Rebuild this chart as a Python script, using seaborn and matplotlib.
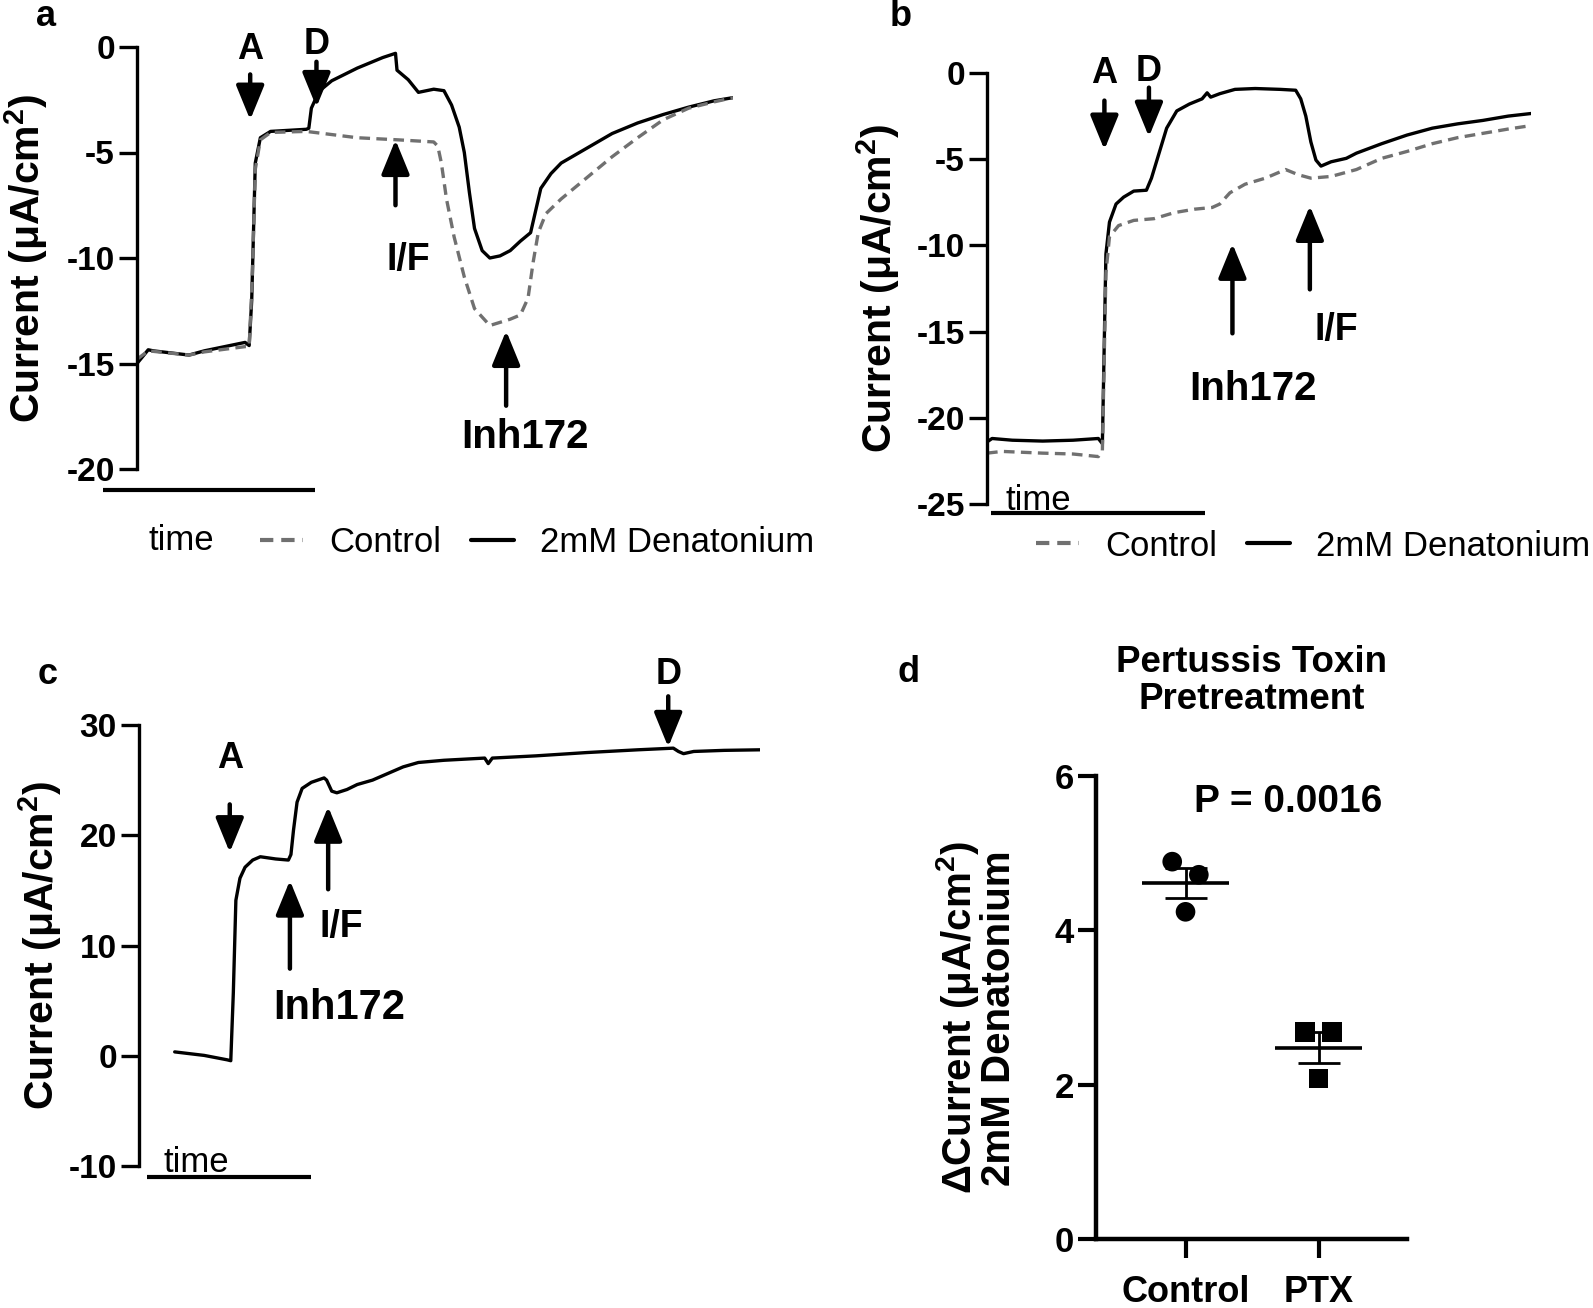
import numpy as np
import pandas as pd
import matplotlib
matplotlib.use("Agg")
import matplotlib.pyplot as plt
from matplotlib.lines import Line2D
import seaborn as sns

# ---------------- data ----------------
# panel a : traces (arbitrary time units)
a_den_t = [0, 2.2, 3.2, 10.2, 13.2, 21.2, 22.0, 22.5, 23.2, 24.2, 26.2, 33.2, 33.7, 34.2, 35.7, 38.2,
           43.2, 48.2, 50.7, 51.0, 53.2, 55.2, 58.2, 60.2, 61.7, 63.2, 64.2, 65.2, 66.2, 67.7, 69.2,
           71.2, 73.2, 75.2, 77.2, 78.2, 79.2, 81.2, 83.2, 88.2, 93.2, 98.2, 103.2, 108.2, 113.2, 116.9]
a_den_v = [-15.0, -14.35, -14.4, -14.6, -14.4, -14.0, -14.15, -12.0, -5.5, -4.3, -4.0, -3.9, -3.85, -2.9,
           -2.1, -1.6, -1.0, -0.5, -0.3, -1.1, -1.55, -2.15, -2.0, -2.07, -2.75, -3.8, -5.0, -6.9, -8.6,
           -9.65, -10.0, -9.9, -9.65, -9.2, -8.8, -7.75, -6.7, -6.0, -5.5, -4.8, -4.1, -3.6, -3.2, -2.85,
           -2.55, -2.4]
a_ctl_t = [0, 2.2, 10.2, 13.2, 21.2, 22.0, 22.6, 23.2, 24.2, 26.2, 33.2, 38.2, 43.2, 51.2, 58.2, 59.0,
           59.7, 60.7, 62.2, 64.2, 66.2, 69.2, 73.2, 75.2, 76.7, 77.7, 78.7, 80.2, 83.2, 88.2, 93.2, 98.2,
           103.2, 108.2, 113.2, 116.9]
a_ctl_v = [-14.8, -14.4, -14.6, -14.45, -14.2, -14.2, -11.0, -5.8, -4.4, -4.05, -4.0, -4.15, -4.3, -4.4,
           -4.5, -4.7, -5.5, -7.2, -9.0, -10.9, -12.4, -13.2, -12.9, -12.7, -11.9, -10.2, -8.8, -7.9,
           -7.2, -6.2, -5.2, -4.3, -3.45, -2.9, -2.6, -2.4]

# panel b
b_den_t = [0, 1, 5, 11, 17, 22, 22.8, 23.5, 24.2, 25.5, 27, 29, 31.5, 32.5, 34, 35.5, 37.5, 40, 42.5,
           43.5, 44.2, 46, 49, 53, 58, 61, 62, 63, 64, 65, 66, 68, 71, 73, 78, 83, 88, 93, 98, 103, 107.5]
b_den_v = [-21.4, -21.2, -21.3, -21.35, -21.3, -21.2, -21.5, -10.5, -8.65, -7.6, -7.2, -6.85, -6.8, -6.1,
           -4.65, -3.2, -2.2, -1.8, -1.5, -1.15, -1.4, -1.2, -0.95, -0.9, -0.95, -1.0, -1.5, -2.5, -4.0,
           -5.05, -5.4, -5.15, -4.95, -4.65, -4.1, -3.6, -3.2, -2.95, -2.75, -2.5, -2.35]
b_ctl_t = [0, 3, 11, 17, 22, 22.8, 23.5, 24.2, 26, 29, 33, 37, 41, 44.5, 46, 48, 51, 55, 59, 61.5, 64,
           68, 73, 78, 83, 88, 93, 98, 103, 107.5]
b_ctl_v = [-22.05, -21.95, -22.05, -22.1, -22.25, -21.9, -11.6, -9.5, -8.85, -8.55, -8.45, -8.1, -7.9,
           -7.8, -7.6, -6.95, -6.45, -6.1, -5.6, -5.9, -6.1, -6.0, -5.6, -4.95, -4.55, -4.1, -3.75, -3.5,
           -3.25, -3.05]

# panel c
c_t = [7, 12.8, 17.3, 18.0, 18.5, 19.0, 19.8, 20.8, 22.3, 23.8, 26.8, 29.3, 29.8, 30.3, 31.0, 32.0, 33.8,
       36.3, 36.8, 37.8, 38.8, 40.8, 42.8, 45.8, 48.8, 51.8, 54.8, 59.8, 67.8, 68.5, 69.3, 77.8, 87.8,
       97.8, 104.8, 105.8, 106.8, 108.8, 114.8, 121.8]
c_v = [0.35, 0.03, -0.37, -0.45, 5.7, 14.1, 16.1, 17.1, 17.75, 18.05, 17.85, 17.75, 18.25, 20.45, 23.0,
       24.25, 24.8, 25.2, 25.0, 24.0, 23.85, 24.15, 24.6, 25.0, 25.6, 26.2, 26.6, 26.8, 27.0, 26.5, 27.0,
       27.2, 27.5, 27.75, 27.9, 27.6, 27.4, 27.6, 27.7, 27.75]

# panel d
d_groups = ["Control", "PTX"]
d_control = [4.89, 4.72, 4.24]
d_ptx = [2.68, 2.68, 2.08]
d_jitter = [-0.10, 0.10, 0.0]   # horizontal spread of replicate points

# treatment annotations: (label, time, arrow tail, arrow head, label x, label y, size)
a_marks = [("A", 22.2, -1.3, -3.45, 22.2, -0.1, 26),
           ("D", 35.2, -0.7, -2.85, 35.2, 0.1, 26),
           ("I/F", 50.7, -7.5, -4.4, 53.2, -10.1, 27),
           ("Inh172", 72.4, -17.0, -13.45, 76.2, -18.5, 29)]
b_marks = [("A", 23.2, -1.6, -4.45, 23.2, 0.0, 26),
           ("D", 32.0, -0.85, -3.7, 32.0, 0.1, 26),
           ("Inh172", 48.5, -15.1, -9.9, 52.5, -18.35, 29),
           ("I/F", 63.8, -12.55, -7.7, 69.0, -14.9, 27)]
c_marks = [("A", 17.8, 22.8, 18.45, 17.8, 27.0, 26),
           ("Inh172", 29.6, 7.9, 15.9, 39.3, 4.35, 30),
           ("I/F", 37.1, 15.1, 22.6, 39.6, 11.7, 27),
           ("D", 103.8, 32.6, 28.0, 103.8, 34.6, 26)]

# ---------------- style ----------------
sns.set_theme(style="ticks")
plt.rcParams["font.family"] = ["Liberation Sans", "DejaVu Sans"]
plt.rcParams["axes.unicode_minus"] = False
plt.rcParams["mathtext.fontset"] = "custom"
plt.rcParams["mathtext.rm"] = "Liberation Sans:bold"
plt.rcParams["mathtext.bf"] = "Liberation Sans:bold"
plt.rcParams["mathtext.default"] = "bf"
for key in ["text.color", "axes.labelcolor", "xtick.color", "ytick.color", "axes.edgecolor",
            "xtick.labelcolor", "ytick.labelcolor"]:
    plt.rcParams[key] = "black"

W, H = 1593, 1308
fig = plt.figure(figsize=(W / 100, H / 100), dpi=100)

def px_axes(left, top, right, bottom):
    return fig.add_axes([left / W, 1 - bottom / H, (right - left) / W, (bottom - top) / H])

ax_a = px_axes(137, 47, 733, 469)
ax_b = px_axes(987, 73, 1531, 504)
ax_c = px_axes(139, 725, 760, 1166)
ax_d = px_axes(1096, 776, 1407, 1239)

GRAY = "#707070"
ylab = r"Current (μA/cm$^{\mathbf{2}}$)"

def trace_axes(ax, df, xmax, ylim, yticks):
    if df["condition"].nunique() > 1:
        sns.lineplot(data=df, x="t", y="current", hue="condition", style="condition",
                     hue_order=["2mM Denatonium", "Control"],
                     palette={"Control": GRAY, "2mM Denatonium": "black"},
                     dashes={"Control": (3.2, 1.9), "2mM Denatonium": ""},
                     linewidth=2.4, legend=False, errorbar=None, ax=ax)
    else:
        sns.lineplot(data=df, x="t", y="current", color="black", linewidth=2.4,
                     legend=False, errorbar=None, ax=ax)
    ax.set_xlim(0, xmax)
    ax.set_ylim(*ylim)
    ax.set_yticks(yticks)
    ax.set_yticklabels([str(v) for v in yticks], fontsize=24, fontweight="bold")
    for s in ["top", "right", "bottom"]:
        ax.spines[s].set_visible(False)
    ax.spines["left"].set_linewidth(2.4)
    ax.spines["left"].set_color("black")
    ax.tick_params(axis="y", length=13, width=2.4, pad=3, color="black", labelcolor="black")
    ax.set_xticks([])
    ax.set_xlabel("")
    ax.set_facecolor("none")

def marks(ax, items):
    for lab, t, tail, head, lx, ly, fs in items:
        ax.annotate("", xy=(t, head), xytext=(t, tail),
                    arrowprops=dict(arrowstyle="-|>,head_length=21,head_width=8.6",
                                    mutation_scale=1, lw=3.2, color="black",
                                    shrinkA=0, shrinkB=0),
                    annotation_clip=False)
        ax.text(lx, ly, lab, ha="center", va="center", fontsize=fs,
                fontweight="bold", color="black", clip_on=False)

def scalebar(ax, x0, x1, y):
    ax.plot([x0, x1], [y, y], transform=ax.transAxes, color="black", lw=3,
            clip_on=False, solid_capstyle="butt")

def legend_at(ax, x, y):
    handles = [Line2D([], [], color=GRAY, lw=3, linestyle=(0, (3.2, 1.9))),
               Line2D([], [], color="black", lw=3)]
    leg = ax.legend(handles, ["Control", "2mM Denatonium"], loc="center left",
                    bbox_to_anchor=(x / W, 1 - y / H), bbox_transform=fig.transFigure,
                    ncol=2, frameon=False, fontsize=25, handlelength=1.25,
                    handletextpad=0.75, columnspacing=0.85, borderpad=0, borderaxespad=0)
    for txt in leg.get_texts():
        txt.set_color("black")

# panel a
df_a = pd.concat([pd.DataFrame({"t": a_den_t, "current": a_den_v, "condition": "2mM Denatonium"}),
                  pd.DataFrame({"t": a_ctl_t, "current": a_ctl_v, "condition": "Control"})])
trace_axes(ax_a, df_a, 116.9, (-20, 0), [0, -5, -10, -15, -20])
marks(ax_a, a_marks)
scalebar(ax_a, (103 - 137) / 596, (315 - 137) / 596, (469 - 490) / 422)
ax_a.set_ylabel(ylab, fontsize=29.5, fontweight="bold", va="center", color="black")
ax_a.yaxis.set_label_coords((26 - 137) / 596, 0.5)
legend_at(ax_a, 260, 543)
fig.text(181 / W, 1 - 540 / H, "time", ha="center", va="center", fontsize=25, color="black")

# panel b
df_b = pd.concat([pd.DataFrame({"t": b_den_t, "current": b_den_v, "condition": "2mM Denatonium"}),
                  pd.DataFrame({"t": b_ctl_t, "current": b_ctl_v, "condition": "Control"})])
trace_axes(ax_b, df_b, 107.5, (-25, 0), [0, -5, -10, -15, -20, -25])
marks(ax_b, b_marks)
scalebar(ax_b, (991 - 987) / 544, (1205 - 987) / 544, (504 - 513) / 431)
ax_b.set_ylabel(ylab, fontsize=29.5, fontweight="bold", va="center", color="black")
ax_b.yaxis.set_label_coords((878 - 987) / 544, 0.5)
legend_at(ax_b, 1036, 546)
fig.text(1038 / W, 1 - 500 / H, "time", ha="center", va="center", fontsize=25, color="black")

# panel c
df_c = pd.DataFrame({"t": c_t, "current": c_v, "condition": "Control"})
trace_axes(ax_c, df_c, 121.8, (-10, 30), [30, 20, 10, 0, -10])
marks(ax_c, c_marks)
scalebar(ax_c, (147 - 139) / 621, (311 - 139) / 621, (1166 - 1177) / 441)
ax_c.set_ylabel(ylab, fontsize=29.5, fontweight="bold", va="center", color="black")
ax_c.yaxis.set_label_coords((40 - 139) / 621, 0.5)
fig.text(196 / W, 1 - 1162 / H, "time", ha="center", va="center", fontsize=25, color="black")

# panel d
df_d = pd.DataFrame({
    "group": ["Control"] * len(d_control) + ["PTX"] * len(d_ptx),
    "value": d_control + d_ptx,
})
df_d["xpos"] = [d_groups.index(g) for g in df_d["group"]] + np.array(d_jitter * 2)
sns.scatterplot(data=df_d, x="xpos", y="value", style="group",
                markers={"Control": "o", "PTX": "s"}, color="black", s=200,
                edgecolor="black", linewidth=0, legend=False, ax=ax_d, zorder=3)
for i, g in enumerate(d_groups):
    vals = df_d.loc[df_d["group"] == g, "value"].to_numpy()
    m = vals.mean()
    sem = vals.std(ddof=1) / np.sqrt(len(vals))
    ax_d.hlines(m, i - 0.33, i + 0.33, color="black", lw=2.6, zorder=4)
    ax_d.errorbar(i, m, yerr=sem, fmt="none", ecolor="black", elinewidth=2.0,
                  capsize=15, capthick=2.0, zorder=4)
ax_d.set_xlim(-0.673, 1.665)
ax_d.set_ylim(0, 6)
ax_d.set_yticks([0, 2, 4, 6])
ax_d.set_yticklabels(["0", "2", "4", "6"], fontsize=25, fontweight="bold")
ax_d.set_xticks([0, 1])
ax_d.set_xticklabels(d_groups, fontsize=26, fontweight="bold")
ax_d.tick_params(axis="y", length=13, width=3, pad=3, color="black", labelcolor="black")
ax_d.tick_params(axis="x", length=14, width=3, pad=12, color="black", labelcolor="black")
for s in ["top", "right"]:
    ax_d.spines[s].set_visible(False)
for s in ["left", "bottom"]:
    ax_d.spines[s].set_linewidth(3.2)
    ax_d.spines[s].set_color("black")
ax_d.set_xlabel("")
ax_d.set_ylabel("ΔCurrent (μA/cm$^{\\mathbf{2}}$)\n2mM Denatonium", fontsize=29,
                fontweight="bold", va="center", linespacing=0.95, color="black")
ax_d.yaxis.set_label_coords((976 - 1096) / 311, 0.477)
ax_d.set_title("Pertussis Toxin\nPretreatment", fontsize=26.5, fontweight="bold",
               pad=48, linespacing=1.1, color="black")
ax_d.text(0.77, 5.66, "P = 0.0016", ha="center", va="center", fontsize=28,
          fontweight="bold", color="black")
ax_d.set_facecolor("none")

# panel letters
for lab, x, y in [("a", 46, 16), ("b", 901, 16), ("c", 48, 675), ("d", 909, 673)]:
    fig.text(x / W, 1 - y / H, lab, ha="center", va="center", fontsize=26,
             fontweight="bold", color="black")

fig.savefig("out.png", dpi=100, facecolor="white")
